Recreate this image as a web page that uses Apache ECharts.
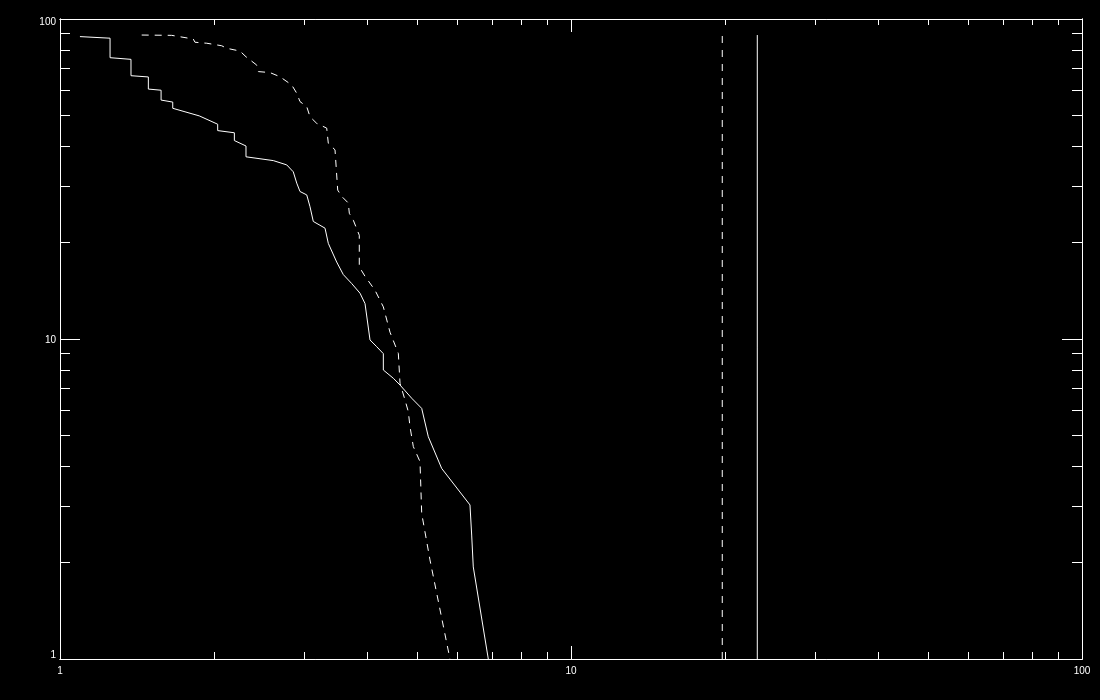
<!DOCTYPE html>
<html><head><meta charset="utf-8">
<script src="https://cdn.jsdelivr.net/npm/echarts@6/dist/echarts.min.js"></script>
<style>html,body{margin:0;padding:0;background:#000}#c{width:1100px;height:700px}</style>
</head><body><div id="c"></div>
<script>
// Solid cumulative curve [x, N]
const solidCurve = [
  [1.094,88.1],[1.253,87.1],[1.253,75.7],[1.377,74.8],[1.377,66.5],[1.489,65.9],[1.489,60.4],
  [1.577,59.9],[1.577,55.8],[1.662,55.0],[1.662,52.6],[1.873,49.8],[2.035,46.9],[2.035,44.8],
  [2.194,44.1],[2.194,41.7],[2.312,40.1],[2.312,37.1],[2.615,36.1],[2.778,35.0],[2.861,33.3],
  [2.906,30.7],[2.949,28.9],[3.040,28.2],[3.085,25.9],[3.131,23.3],[3.301,22.2],[3.350,19.9],
  [3.479,17.4],[3.584,15.9],[3.723,14.9],[3.865,13.9],[3.953,12.9],[4.043,9.93],[4.167,9.46],
  [4.293,9.0],[4.293,8.0],[4.490,7.54],[4.628,7.18],[4.878,6.53],[5.103,6.07],[5.257,4.95],
  [5.584,3.94],[6.343,3.03],[6.392,2.44],[6.438,1.94],[6.889,1.0]
];
// Dashed cumulative curve [x, N]
const dashedCurve = [
  [1.445,89.1],[1.654,88.9],[1.823,86.6],[1.837,84.6],[1.937,84.0],[2.072,82.5],[2.120,81.0],
  [2.250,79.4],[2.312,76.2],[2.426,71.8],[2.444,68.5],[2.576,68.0],[2.695,66.0],[2.841,62.2],
  [2.906,58.6],[2.949,55.2],[3.040,53.2],[3.085,49.5],[3.179,47.2],[3.326,45.6],[3.350,40.9],
  [3.453,39.0],[3.495,29.2],[3.559,27.9],[3.666,26.6],[3.683,24.7],[3.750,23.5],[3.852,21.1],
  [3.852,16.8],[3.953,15.7],[4.135,14.2],[4.293,12.6],[4.424,10.5],[4.593,9.02],[4.628,7.27],
  [4.733,6.45],[4.804,5.93],[4.841,5.32],[4.914,4.61],[5.064,4.14],[5.103,2.85],[5.297,2.04],
  [5.796,1.0]
];
// Vertical reference lines
const solidRefLine = [[23.15,1],[23.15,89.1]];
const dashedRefLine = [[19.77,1],[19.77,89.1]];
// Ticks
const majorTicks = [1,10,100];
const tickLabels = ['1','10','100'];
const minorTicks = [2,3,4,5,6,7,8,9,20,30,40,50,60,70,80,90];

const W = '#ffffff';
function xLabelFmt(v){ const i = Math.round(Math.log10(v)); return tickLabels[i] !== undefined ? tickLabels[i] : ''; }
function yLabelFmt(v){
  const i = Math.round(Math.log10(v));
  const t = tickLabels[i] !== undefined ? tickLabels[i] : '';
  if (i === 0) return '{lo|' + t + '}';
  if (i === tickLabels.length - 1) return '{hi|' + t + '}';
  return '{mid|' + t + '}';
}
const lblBase = {color:W, fontSize:10, fontFamily:'Liberation Sans'};
function mkAxis(dim, pos, ticks, len, withLabels, margin){
  const ax = {
    type:'log', logBase:10, min:1, max:100, position:pos,
    axisLine:{show:true, onZero:false, lineStyle:{color:W, width:1}},
    axisTick:{show:true, inside:true, length:len, customValues:ticks, lineStyle:{color:W, width:1}},
    axisLabel:{show:false},
    splitLine:{show:false}, minorTick:{show:false}, minorSplitLine:{show:false},
    axisPointer:{show:false}
  };
  if (withLabels) {
    ax.axisLabel = Object.assign({show:true, customValues:majorTicks, margin:margin}, lblBase);
    if (dim === 'x') {
      ax.axisLabel.formatter = xLabelFmt;
    } else {
      ax.axisLabel.formatter = yLabelFmt;
      ax.axisLabel.rich = {
        lo: Object.assign({padding:[0,0,7,0]}, lblBase),
        hi: Object.assign({padding:[7,0,0,0]}, lblBase),
        mid: Object.assign({padding:[2,0,0,0]}, lblBase)
      };
    }
  }
  return ax;
}
const chart = echarts.init(document.getElementById('c'), null, {renderer:'canvas'});
chart.setOption({
  backgroundColor:'#000000',
  animation:false,
  grid:{left:60, right:18, top:19, bottom:41, containLabel:false, outerBoundsMode:'none'},
  xAxis:[
    mkAxis('x','bottom',majorTicks,13,true,7),
    mkAxis('x','bottom',minorTicks,7,false),
    mkAxis('x','top',majorTicks,13,false),
    mkAxis('x','top',minorTicks,6,false)
  ],
  yAxis:[
    mkAxis('y','left',majorTicks,20,true,4),
    mkAxis('y','left',minorTicks,10,false),
    mkAxis('y','right',majorTicks,20,false),
    mkAxis('y','right',minorTicks,10,false)
  ],
  series:[
    {type:'line', data:solidCurve, showSymbol:false, symbol:'none', lineStyle:{color:W, width:1}, silent:true},
    {type:'line', data:dashedCurve, showSymbol:false, symbol:'none', lineStyle:{color:W, width:1, type:[7,6]}, silent:true},
    {type:'line', data:solidRefLine, showSymbol:false, symbol:'none', lineStyle:{color:W, width:1}, silent:true},
    {type:'line', data:dashedRefLine, showSymbol:false, symbol:'none', lineStyle:{color:W, width:1, type:[7,7]}, silent:true}
  ]
});
</script></body></html>
